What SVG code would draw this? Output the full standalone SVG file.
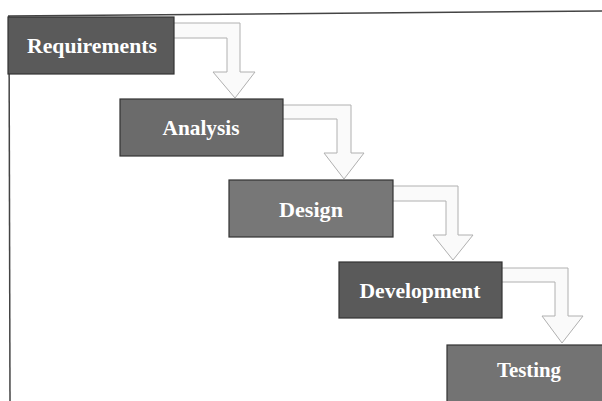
<svg xmlns="http://www.w3.org/2000/svg" width="602" height="401" viewBox="0 0 602 401">
<style>
.box{stroke:#333;stroke-width:1.2}
.lbl{font-family:"Liberation Serif","Times New Roman",serif;font-weight:bold;font-size:21px;fill:#fff;text-anchor:middle}
.arr{fill:#fafafa;stroke:#b0b0b0;stroke-width:1;stroke-linejoin:miter}
.frame{stroke:#444;stroke-width:1.5;fill:none}
</style>
<rect width="602" height="401" fill="#fff"/>
<g id="frame">
<line class="frame" x1="8" y1="16" x2="602" y2="11"/>
<line class="frame" x1="9" y1="16" x2="10" y2="401"/>
</g>
<g id="connectors">
<path class="arr" d="M174,23 H240 V72 H255 L235,98 L213,72 H227 V38 H174"/>
<path class="arr" d="M283,105 H351 V153 H364 L344,179 L324,153 H337 V119 H283"/>
<path class="arr" d="M393,186 H458 V235 H473 L453,260 L433,235 H446 V201 H393"/>
<path class="arr" d="M502,268 H568 V316 H583 L562,343 L542,316 H555 V282 H502"/>
</g>
<g id="requirements">
<rect class="box" x="8" y="17" width="166" height="57" fill="#5a5a5a"/>
<text class="lbl" x="92" y="53" textLength="130" lengthAdjust="spacingAndGlyphs">Requirements</text>
</g>
<g id="analysis">
<rect class="box" x="120" y="99" width="163" height="57" fill="#6b6b6b"/>
<text class="lbl" x="201" y="135" textLength="77" lengthAdjust="spacingAndGlyphs">Analysis</text>
</g>
<g id="design">
<rect class="box" x="229" y="180" width="164" height="57" fill="#777"/>
<text class="lbl" x="311" y="217" textLength="64" lengthAdjust="spacingAndGlyphs">Design</text>
</g>
<g id="development">
<rect class="box" x="339" y="262" width="163" height="56" fill="#5a5a5a"/>
<text class="lbl" x="420" y="298" textLength="121" lengthAdjust="spacingAndGlyphs">Development</text>
</g>
<g id="testing">
<rect class="box" x="447" y="345" width="160" height="60" fill="#737373"/>
<text class="lbl" x="529" y="377" textLength="64" lengthAdjust="spacingAndGlyphs">Testing</text>
</g>
</svg>
